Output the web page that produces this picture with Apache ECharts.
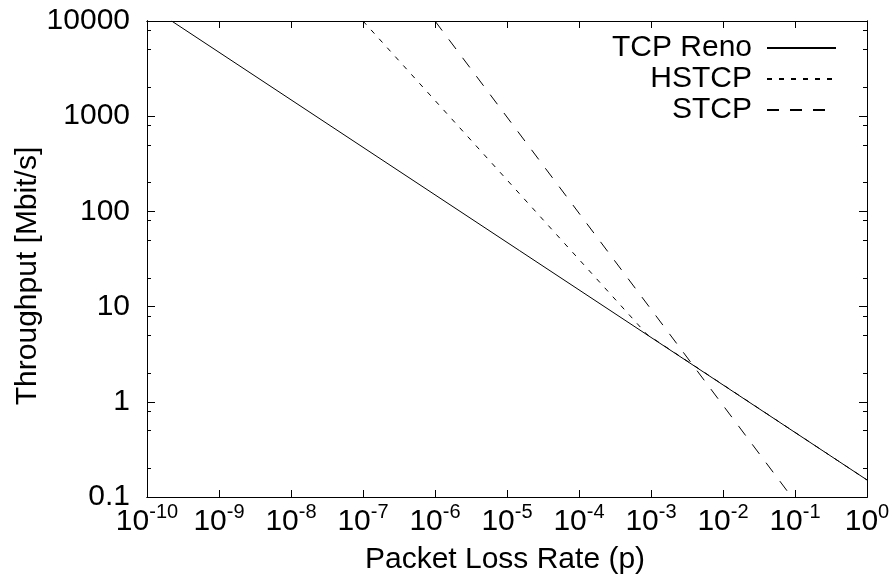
<!DOCTYPE html>
<html><head><meta charset="utf-8">
<script src="https://cdn.jsdelivr.net/npm/echarts@6/dist/echarts.min.js"></script>
<style>html,body{margin:0;padding:0;background:#fff}#c{width:894px;height:575px}</style>
</head><body><div id="c"></div>
<script>
// ---- data ----
const xTickExponents = [-10,-9,-8,-7,-6,-5,-4,-3,-2,-1,0];
const yTickValues = [0.1, 1, 10, 100, 1000, 10000];
const yTickLabels = ['0.1','1','10','100','1000','10000'];
const yMinorTicks = [0.2,0.5,0.8,2,5,8,20,50,80,200,500,800,2000,5000,8000];
const seriesNames = ['TCP Reno','HSTCP','STCP'];
const renoLoss = [2.2e-10, 1];
const renoThroughput = [10000, 0.151];
const hstcpLoss = [1e-7, 8.8e-4, 1];
const hstcpThroughput = [10000, 5.1, 0.151];
const stcpLoss = [1e-6, 0.09];
const stcpThroughput = [10000, 0.1];
const xTitle = 'Packet Loss Rate (p)';
const yTitle = 'Throughput [Mbit/s]';

const FONT = "'Liberation Sans', Arial, Helvetica, sans-serif";
const BLACK = '#000';
const CLEAR = 'rgba(0,0,0,0)';
function zip(a, b) { return a.map((v, i) => [v, b[i]]); }
const xTickValues = xTickExponents.map(e => Math.pow(10, e));

const chart = echarts.init(document.getElementById('c'));
const gridBox = {left: 147, right: 27, top: 21, bottom: 78};

function plainHiddenLabel(vals) {
  return {show: true, customValues: vals, fontSize: 1, color: CLEAR, margin: 0, formatter: () => '.'};
}

// x axis: kind = 'main' | 'ticks' | 'off'
function xAxisCfg(grid, pos, kind) {
  if (kind === 'off') {
    return {gridIndex: grid, type: 'log', min: 1e-10, max: 1, show: false};
  }
  return {
    gridIndex: grid, type: 'log', logBase: 10, min: 1e-10, max: 1, position: pos,
    axisLine: {show: true, onZero: false, lineStyle: {color: BLACK, width: 1}},
    axisTick: {show: true, inside: true, length: 7, customValues: xTickValues, lineStyle: {color: BLACK, width: 1}},
    splitLine: {show: false},
    axisLabel: kind === 'main' ? {
      show: true, margin: 5, color: BLACK, fontFamily: FONT, customValues: xTickValues,
      formatter: function (v) {
        const e = Math.round(Math.log10(v));
        return '{b|10}{s|' + e + '}';
      },
      rich: {
        b: {fontSize: 30, fontFamily: FONT, color: BLACK, lineHeight: 40},
        s: {fontSize: 20, fontFamily: FONT, color: BLACK, lineHeight: 20, verticalAlign: 'top'}
      }
    } : plainHiddenLabel(xTickValues)
  };
}
// y axis: kind = 'main' | 'major' | 'minor' | 'off'
function yAxisCfg(grid, pos, kind) {
  if (kind === 'off') {
    return {gridIndex: grid, type: 'log', min: 0.1, max: 10000, show: false};
  }
  const minor = kind === 'minor';
  return {
    gridIndex: grid, type: 'log', logBase: 10, min: 0.1, max: 10000, position: pos,
    axisLine: {show: true, onZero: false, lineStyle: {color: BLACK, width: 1}},
    axisTick: {show: true, inside: true, length: minor ? 4 : 8,
               customValues: minor ? yMinorTicks : yTickValues, lineStyle: {color: BLACK, width: 1}},
    splitLine: {show: false},
    axisLabel: kind === 'main' ? {
      show: true, margin: 17, fontSize: 30, fontFamily: FONT, color: BLACK, customValues: yTickValues,
      formatter: function (v) {
        const e = Math.round(Math.log10(v));
        return yTickLabels[e + 1] || '';
      }
    } : plainHiddenLabel(minor ? yMinorTicks : yTickValues)
  };
}

const lineStyles = [
  {color: BLACK, width: 1, type: 'solid'},
  {color: BLACK, width: 1, type: [5, 7]},
  {color: BLACK, width: 1, type: [12, 11]}
];
const dataSets = [zip(renoLoss, renoThroughput), zip(hstcpLoss, hstcpThroughput), zip(stcpLoss, stcpThroughput)];

const option = {
  backgroundColor: '#fff',
  animation: false,
  grid: [0, 1, 2, 3, 4].map(() => Object.assign({}, gridBox)),
  xAxis: [
    xAxisCfg(0, 'bottom', 'main'),
    xAxisCfg(1, 'top', 'ticks'),
    xAxisCfg(2, 'bottom', 'ticks'),
    xAxisCfg(3, 'top', 'ticks'),
    xAxisCfg(4, 'bottom', 'off')
  ],
  yAxis: [
    yAxisCfg(0, 'left', 'main'),
    yAxisCfg(1, 'right', 'major'),
    yAxisCfg(2, 'left', 'minor'),
    yAxisCfg(3, 'right', 'minor'),
    yAxisCfg(4, 'left', 'major')
  ],
  legend: {
    orient: 'vertical', align: 'right', right: 57, top: 33, padding: 0,
    itemWidth: 69, itemHeight: 14, itemGap: 1, selectedMode: false,
    itemStyle: {color: CLEAR, borderWidth: 0, borderColor: CLEAR},
    textStyle: {fontSize: 30, fontFamily: FONT, color: BLACK, padding: [0, 10, 0, 0]},
    data: seriesNames
  },
  series: seriesNames.map((n, i) => ({
    name: n, type: 'line', xAxisIndex: 0, yAxisIndex: 0,
    data: dataSets[i], symbol: 'none', showSymbol: false, clip: true,
    lineStyle: lineStyles[i], itemStyle: {color: BLACK}, color: BLACK,
    emphasis: {disabled: true}
  })),
  graphic: [
    {type: 'text', x: 505, y: 560, silent: true,
     style: {text: xTitle, fontSize: 30, fontFamily: FONT, fill: BLACK, align: 'center', verticalAlign: 'middle'}},
    {type: 'text', x: 28, y: 276, rotation: Math.PI / 2, silent: true,
     style: {text: yTitle, fontSize: 30, fontFamily: FONT, fill: BLACK, align: 'center', verticalAlign: 'middle'}}
  ]
};
chart.setOption(option);
</script>
</body></html>
